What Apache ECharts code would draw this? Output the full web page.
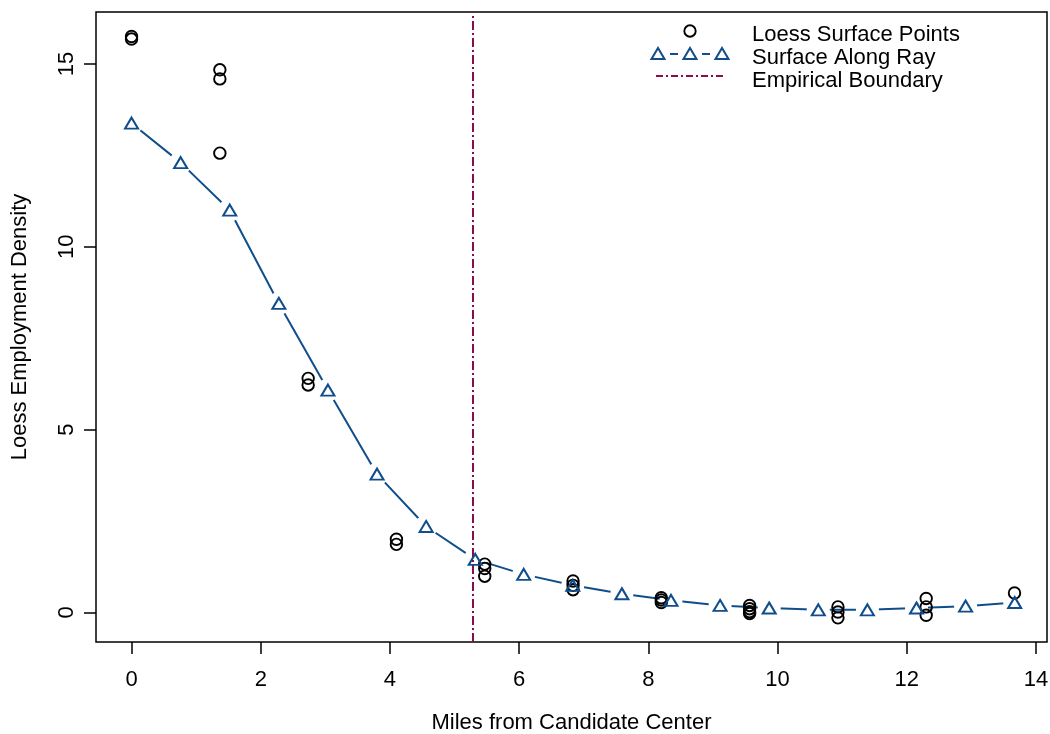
<!DOCTYPE html>
<html>
<head>
<meta charset="utf-8">
<script src="https://cdn.jsdelivr.net/npm/echarts@6/dist/echarts.min.js"></script>
<style>
  html, body { margin: 0; padding: 0; background: #fff; }
  #chart { width: 1050px; height: 734px; }
</style>
</head>
<body>
<div id="chart"></div>
<script>
// loess surface points (x = miles, y = density)
const pointX = [0, 0, 1.367, 1.367, 1.367, 2.734, 2.734, 4.1, 4.1,
  5.467, 5.467, 5.467, 6.834, 6.834, 6.834, 8.2, 8.2, 8.2,
  9.567, 9.567, 9.567, 9.567, 10.934, 10.934, 10.934, 12.3, 12.3, 12.3, 13.667];
const pointY = [15.75, 15.68, 14.84, 14.59, 12.56, 6.40, 6.22, 2.00, 1.86,
  1.32, 1.20, 0.99, 0.86, 0.74, 0.62, 0.40, 0.34, 0.27,
  0.19, 0.10, 0.02, -0.03, 0.15, 0.01, -0.15, 0.38, 0.15, -0.08, 0.53];

// surface along ray
const rayX = [0, 0.76, 1.52, 2.28, 3.04, 3.80, 4.56, 5.32, 6.07, 6.83,
  7.59, 8.35, 9.11, 9.87, 10.63, 11.39, 12.15, 12.91, 13.67];
const rayY = [13.38, 12.30, 11.00, 8.45, 6.08, 3.78, 2.35, 1.45, 1.04, 0.74,
  0.51, 0.33, 0.19, 0.12, 0.07, 0.07, 0.12, 0.17, 0.27];

const boundaryX = 5.28;

const xTicks = [0, 2, 4, 6, 8, 10, 12, 14];
const yTicks = [0, 5, 10, 15];

const legendNames = ['Loess Surface Points', 'Surface Along Ray', 'Empirical Boundary'];

const blue = '#104E8B';
const maroon = '#8B0A50';
const font = "'Liberation Sans', Arial, sans-serif";

const zip = (xs, ys) => xs.map((x, i) => [x, ys[i]]);

const chart = echarts.init(document.getElementById('chart'));

function tri(cx, cy) {
  return [[cx - 6.5, cy + 5], [cx + 6.5, cy + 5], [cx, cy - 6]];
}

chart.setOption({
  animation: false,
  grid: {
    left: 96, right: 3, top: 12, bottom: 92,
    outerBoundsMode: 'none',
    containLabel: false,
    show: true, borderColor: '#000', borderWidth: 1.5
  },
  xAxis: {
    type: 'value',
    min: -0.55, max: 14.17,
    name: 'Miles from Candidate Center',
    nameLocation: 'middle',
    nameGap: 70,
    nameTextStyle: { fontFamily: font, fontSize: 22, color: '#000' },
    axisLine: { show: false, onZero: false },
    splitLine: { show: false },
    axisTick: { show: true, length: 12, customValues: xTicks, lineStyle: { color: '#000', width: 1.5 } },
    axisLabel: { customValues: xTicks, margin: 27, fontFamily: font, fontSize: 22, color: '#000' }
  },
  yAxis: {
    type: 'value',
    min: -0.81, max: 16.42,
    name: 'Loess Employment Density',
    nameLocation: 'middle',
    nameGap: 65,
    nameRotate: 90,
    nameTextStyle: { fontFamily: font, fontSize: 22, color: '#000' },
    axisLine: { show: false, onZero: false },
    splitLine: { show: false },
    axisTick: { show: true, length: 12, customValues: yTicks, lineStyle: { color: '#000', width: 1.5 } },
    axisLabel: { customValues: yTicks, rotate: 90, margin: 18, fontFamily: font, fontSize: 22, color: '#000' }
  },
  series: [
    {
      name: 'ray line',
      type: 'line',
      z: 2,
      data: zip(rayX, rayY),
      showSymbol: false,
      silent: true,
      lineStyle: { color: blue, width: 2 }
    },
    {
      // white discs leave the gaps round each triangle
      name: 'gaps',
      type: 'scatter',
      z: 3,
      silent: true,
      data: zip(rayX, rayY),
      symbol: 'circle',
      symbolSize: 23,
      itemStyle: { color: '#fff', opacity: 1 }
    },
    {
      name: legendNames[0],
      type: 'scatter',
      z: 4,
      data: zip(pointX, pointY),
      symbol: 'circle',
      symbolSize: 11.5,
      itemStyle: { color: 'none', borderColor: '#000', borderWidth: 1.9, opacity: 1 }
    },
    {
      name: legendNames[1],
      type: 'scatter',
      z: 5,
      data: zip(rayX, rayY),
      symbol: 'triangle',
      symbolSize: [13, 11],
      itemStyle: { color: 'none', borderColor: blue, borderWidth: 2, opacity: 1 }
    },
    {
      name: legendNames[2],
      type: 'line',
      z: 6,
      data: [],
      markLine: {
        silent: true,
        symbol: 'none',
        label: { show: false },
        lineStyle: { color: maroon, width: 2, type: [9, 3, 2, 3] },
        data: [{ xAxis: boundaryX }]
      }
    }
  ],
  graphic: [
    { type: 'circle', shape: { cx: 690, cy: 31, r: 5.7 }, style: { fill: 'none', stroke: '#000', lineWidth: 1.9 } },
    { type: 'polygon', shape: { points: tri(658, 54) }, style: { fill: 'none', stroke: blue, lineWidth: 2 } },
    { type: 'polygon', shape: { points: tri(690, 54) }, style: { fill: 'none', stroke: blue, lineWidth: 2 } },
    { type: 'polygon', shape: { points: tri(722, 54) }, style: { fill: 'none', stroke: blue, lineWidth: 2 } },
    { type: 'line', shape: { x1: 670, y1: 54, x2: 678, y2: 54 }, style: { stroke: blue, lineWidth: 2 } },
    { type: 'line', shape: { x1: 702, y1: 54, x2: 710, y2: 54 }, style: { stroke: blue, lineWidth: 2 } },
    { type: 'line', shape: { x1: 656, y1: 76, x2: 723, y2: 76 }, style: { stroke: maroon, lineWidth: 2, lineDash: [7, 3, 2, 3] } },
    { type: 'text', x: 752, y: 35, style: { text: legendNames[0], font: '22px ' + font, fill: '#000', verticalAlign: 'middle' } },
    { type: 'text', x: 752, y: 57.5, style: { text: legendNames[1], font: '22px ' + font, fill: '#000', verticalAlign: 'middle' } },
    { type: 'text', x: 752, y: 81, style: { text: legendNames[2], font: '22px ' + font, fill: '#000', verticalAlign: 'middle' } }
  ]
});
</script>
</body>
</html>
